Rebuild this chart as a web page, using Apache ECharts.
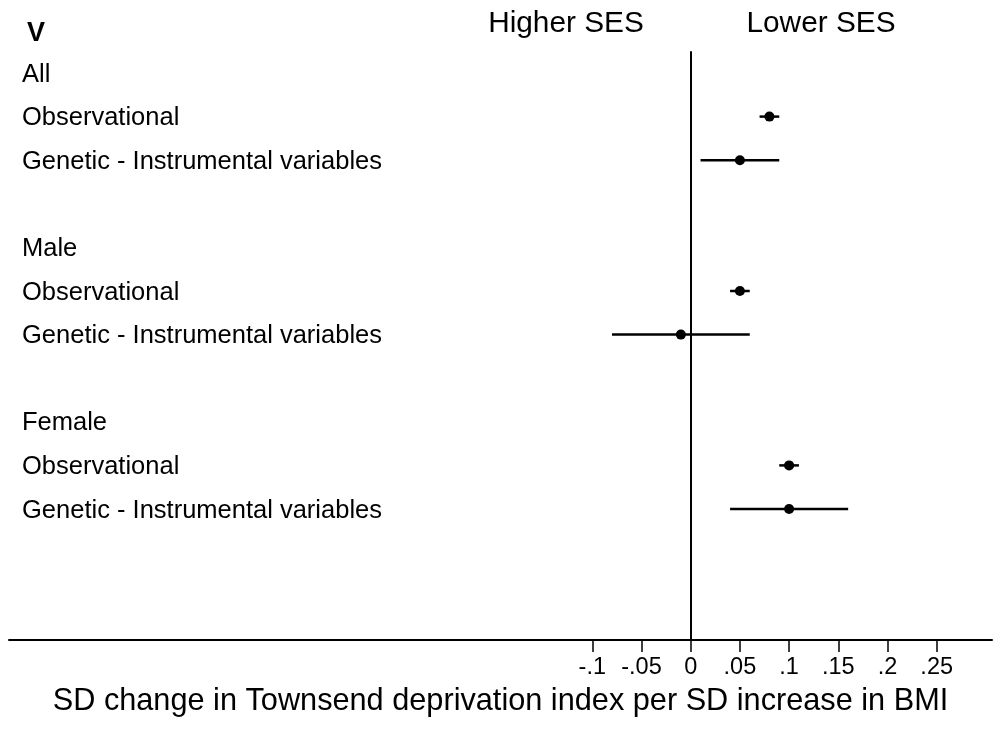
<!DOCTYPE html>
<html>
<head>
<meta charset="utf-8">
<script src="https://cdn.jsdelivr.net/npm/echarts@6/dist/echarts.min.js"></script>
<style>html,body{margin:0;padding:0;background:#fff;overflow:hidden;}#c{width:993px;height:730px;}</style>
</head>
<body>
<div id="c"></div>
<script>
// Row labels (left-hand text) and their row positions
var rowLabels = ['All','Observational','Genetic - Instrumental variables','Male','Observational','Genetic - Instrumental variables','Female','Observational','Genetic - Instrumental variables'];
var labelRows = [0,1,2,4,5,6,8,9,10];
// Estimates with 95% CI
var estRows   = [1,2,5,6,9,10];
var estimates = [0.08,0.05,0.05,-0.01,0.10,0.10];
var lowerCI   = [0.07,0.01,0.04,-0.08,0.09,0.04];
var upperCI   = [0.09,0.09,0.06,0.06,0.11,0.16];
// Axis
var tickMin = -0.1, tickMax = 0.25, tickStep = 0.05;
var axisMin = -0.6928, axisMax = 0.3062;
var axisTitle = 'SD change in Townsend deprivation index per SD increase in BMI';
var panelLetter = 'V';
var leftHeader = 'Higher SES', rightHeader = 'Lower SES';

var FONT = '"Liberation Sans", Arial, Helvetica, sans-serif';
var chart = echarts.init(document.getElementById('c'), null, {renderer:'canvas', width:993, height:730});

var ciData = estRows.map(function(r,i){ return [lowerCI[i], upperCI[i], r]; });
var ptData = estRows.map(function(r,i){ return [estimates[i], r]; });
var lblData = labelRows.map(function(r,i){ return {value:[axisMin, r], name: rowLabels[i]}; });

function fmt(v){
  var s = String(Number(v.toFixed(2)));
  return s.replace('0.', '.');
}

chart.setOption({
  animation:false,
  backgroundColor:'#fff',
  textStyle:{fontFamily:FONT, color:'#000'},
  title:[
    {text:panelLetter, left:22, top:15, textStyle:{fontFamily:FONT, fontSize:27, fontWeight:'bold', color:'#000'}},
    {text:leftHeader, left:561, textAlign:'center', top:4, textStyle:{fontFamily:FONT, fontSize:29.8, fontWeight:'normal', color:'#000'}},
    {text:rightHeader, left:816, textAlign:'center', top:4, textStyle:{fontFamily:FONT, fontSize:29.8, fontWeight:'normal', color:'#000'}}
  ],
  grid:[
    {left:9, width:983, top:51.2, height:588.6, containLabel:false},
    {left:592.3, width:344.4, top:600, height:40, containLabel:false}
  ],
  xAxis:[
    {type:'value', gridIndex:0, min:axisMin, max:axisMax, position:'bottom',
     axisLine:{show:true, onZero:false, lineStyle:{color:'#000', width:2}},
     axisTick:{show:false}, axisLabel:{show:false}, splitLine:{show:false},
     name:axisTitle, nameLocation:'middle', nameGap:46,
     nameTextStyle:{fontFamily:FONT, fontSize:30.7, color:'#000'}},
    {type:'value', gridIndex:1, min:tickMin, max:tickMax, interval:tickStep, position:'bottom',
     axisLine:{show:false, onZero:false},
     axisTick:{show:true, length:12, lineStyle:{color:'#000', width:1.5}},
     axisLabel:{show:true, margin:16, fontFamily:FONT, fontSize:23.5, color:'#000', formatter:fmt, showMinLabel:true, showMaxLabel:true, hideOverlap:false},
     splitLine:{show:false}}
  ],
  yAxis:[
    {type:'value', gridIndex:0, min:-0.5, max:13, inverse:true, show:false},
    {type:'value', gridIndex:1, min:0, max:1, show:false}
  ],
  series:[
    {type:'custom', xAxisIndex:0, yAxisIndex:0, data:ciData, z:2,
     renderItem:function(params, api){
       var p1 = api.coord([api.value(0), api.value(2)]);
       var p2 = api.coord([api.value(1), api.value(2)]);
       return {type:'line', shape:{x1:p1[0], y1:p1[1], x2:p2[0], y2:p2[1]}, style:{stroke:'#000', lineWidth:2.5}};
     },
     markLine:{silent:true, symbol:'none', label:{show:false},
       lineStyle:{color:'#000', width:2, type:'solid'}, data:[{xAxis:0}]}
    },
    {type:'scatter', xAxisIndex:0, yAxisIndex:0, data:ptData, symbol:'circle', symbolSize:10,
     itemStyle:{color:'#000', opacity:1}, z:3},
    {type:'scatter', xAxisIndex:0, yAxisIndex:0, data:lblData, symbolSize:0, silent:true,
     itemStyle:{opacity:1},
     label:{show:true, position:'right', distance:13, offset:[0,1.5], formatter:function(p){return p.name;},
       fontFamily:FONT, fontSize:25.5, color:'#000', opacity:1}}
  ]
});
</script>
</body>
</html>
